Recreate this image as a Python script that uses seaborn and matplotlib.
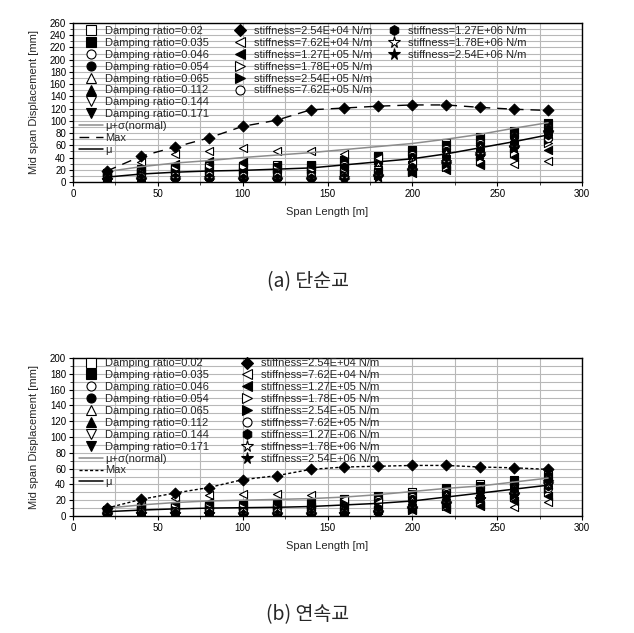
import numpy as np
import pandas as pd
import matplotlib
matplotlib.use("Agg")
import matplotlib.pyplot as plt
import seaborn as sns
from matplotlib.lines import Line2D
from matplotlib.ticker import MultipleLocator

sns.set_theme(style="white")
plt.rcParams["font.family"] = ["Liberation Sans", "DejaVu Sans"]

# ---------------- data ----------------
spans = [20, 40, 60, 80, 100, 120, 140, 160, 180, 200, 220, 240, 260, 280]

damping_labels = ["Damping ratio=0.02", "Damping ratio=0.035", "Damping ratio=0.046",
                  "Damping ratio=0.054", "Damping ratio=0.065", "Damping ratio=0.112",
                  "Damping ratio=0.144", "Damping ratio=0.171"]
stiffness_labels = ["stiffness=2.54E+04 N/m", "stiffness=7.62E+04 N/m", "stiffness=1.27E+05 N/m",
                    "stiffness=1.78E+05 N/m", "stiffness=2.54E+05 N/m", "stiffness=7.62E+05 N/m",
                    "stiffness=1.27E+06 N/m", "stiffness=1.78E+06 N/m", "stiffness=2.54E+06 N/m"]
line_labels = ["μ+σ(normal)", "Max", "μ"]

# (a) simple bridge
a_damp = [
    [15, 21, 24, 26, 26, 27, 27, 36, 43, 53, 63, 73, 84, 97],
    [14, 19, 22, 23, 24, 25, 26, 34, 41, 51, 61, 71, 82, 95],
    [11, 15, 17, 17, 17, 18, 19, 27, 34, 44, 54, 64, 76, 89],
    [10, 13, 15, 15, 15, 16, 17, 24, 31, 41, 51, 61, 73, 86],
    [8, 11, 12, 12, 12, 13, 14, 20, 27, 37, 47, 57, 69, 83],
    [6, 8, 9, 9, 9, 10, 11, 16, 22, 31, 41, 52, 64, 78],
    [5, 6, 7, 7, 7, 8, 9, 13, 19, 28, 38, 49, 61, 75],
    [4, 5, 6, 6, 6, 7, 8, 12, 17, 26, 36, 47, 59, 73],
]
a_stiff = [
    [18, 42, 57, 72, 91, 101, 118, 121, 124, 126, 126, 122, 119, 117],
    [14, 32, 46, 51, 55, 51, 51, 45, 39, 31, 26, 30, 29, 34],
    [11, 22, 30, 34, 33, 28, 27, 22, 18, 15, 20, 28, 41, 52],
    [9, 17, 22, 25, 24, 22, 20, 17, 14, 16, 25, 35, 48, 63],
    [8, 14, 17, 18, 17, 16, 15, 13, 12, 18, 30, 42, 55, 68],
    [6, 10, 12, 11, 10, 10, 9, 10, 12, 22, 35, 48, 60, 72],
    [5, 7, 8, 8, 7, 7, 7, 8, 13, 25, 38, 51, 63, 77],
    [4, 5, 6, 6, 5, 5, 5, 6, 10, 20, 33, 46, 58, 80],
    [3, 4, 4, 4, 3, 3, 3, 4, 8, 18, 30, 43, 56, 82],
]
a_mu_sigma = [17, 25, 31, 35, 40, 44, 48, 53, 58, 63, 70, 78, 88, 97]
a_max = [18, 42, 57, 72, 91, 101, 118, 121, 124, 126, 126, 122, 119, 117]
a_mu = [8, 13, 16, 18, 19, 21, 23, 28, 33, 38, 46, 56, 66, 77]

# (b) continuous bridge
b_damp = [
    [8, 11, 13, 14, 14, 15, 16, 22, 25, 30, 35, 40, 46, 52],
    [7, 10, 12, 13, 13, 14, 15, 21, 24, 28, 34, 38, 44, 50],
    [6, 8, 9, 10, 10, 11, 12, 17, 20, 24, 30, 35, 41, 47],
    [5, 7, 8, 9, 9, 10, 11, 15, 18, 22, 28, 33, 39, 45],
    [4, 6, 7, 7, 7, 8, 9, 13, 16, 20, 26, 31, 37, 43],
    [3, 4, 5, 5, 5, 6, 7, 10, 13, 17, 23, 28, 34, 40],
    [3, 3, 4, 4, 4, 5, 6, 8, 11, 15, 21, 26, 32, 38],
    [2, 3, 3, 3, 3, 4, 5, 7, 10, 14, 20, 25, 31, 37],
]
b_stiff = [
    [10, 21, 29, 36, 46, 51, 59, 62, 63, 64, 64, 62, 61, 59],
    [8, 16, 23, 27, 28, 28, 27, 22, 18, 9, 12, 14, 12, 18],
    [6, 11, 15, 18, 16, 14, 12, 10, 8, 7, 9, 13, 19, 25],
    [5, 9, 11, 12, 11, 10, 9, 8, 7, 8, 13, 18, 24, 31],
    [4, 7, 8, 9, 8, 7, 7, 6, 7, 10, 16, 21, 27, 34],
    [3, 5, 6, 6, 5, 5, 4, 4, 6, 11, 17, 23, 29, 36],
    [2, 3, 4, 4, 3, 3, 3, 3, 7, 12, 18, 24, 30, 38],
    [2, 2, 3, 3, 2, 2, 2, 2, 5, 10, 16, 22, 28, 41],
    [1, 2, 2, 2, 1, 1, 1, 2, 4, 9, 15, 21, 27, 43],
]
b_mu_sigma = [10, 14, 17, 19, 20, 21, 22, 24, 27, 31, 35, 38, 43, 48]
b_max = [10, 21, 29, 36, 46, 51, 59, 62, 63, 64, 64, 62, 61, 59]
b_mu = [5.5, 7.5, 9, 10, 10.5, 11, 12, 14, 16, 19, 24, 29, 34, 39]

captions = ["(a) 단순교", "(b) 연속교"]

# ---------------- styles ----------------
damp_styles = [("s", False), ("s", True), ("o", False), ("o", True),
               ("^", False), ("^", True), ("v", False), ("v", True)]
stiff_styles = [("D", True), ("<", False), ("<", True), (">", False), (">", True),
                ("o", False), ("h", True), ("*", False), ("*", True)]


def msize(m):
    return {"*": 60, "D": 30, "h": 38}.get(m, 34)


def lmsize(m):
    return {"*": 8.5, "D": 6.5, "h": 7}.get(m, 6.5)


def mk_handle(m, filled):
    return Line2D([], [], ls="none", marker=m, ms=lmsize(m),
                  mfc="black" if filled else "white", mec="black", mew=0.8)


def panel(ax, damp, stiff, mu_sigma, mx, mu, ymax, dash, split, col2x, col3x, top):
    for (m, f), vals in zip(damp_styles, damp):
        sns.scatterplot(x=spans, y=vals, marker=m, s=msize(m),
                        color="black" if f else "white", edgecolor="black",
                        linewidth=0.8, ax=ax, zorder=3, legend=False)
    for i, ((m, f), vals) in enumerate(zip(stiff_styles, stiff)):
        sns.scatterplot(x=spans, y=vals, marker=m, s=msize(m),
                        color="black" if f else "white", edgecolor="black",
                        linewidth=0.8, ax=ax, zorder=5 if i == 0 else 3, legend=False)
    sns.lineplot(x=spans, y=mu_sigma, color="#8c8c8c", lw=1.1, ax=ax, zorder=4, errorbar=None)
    sns.lineplot(x=spans, y=mx, color="black", lw=1.0, linestyle=dash, ax=ax, zorder=4, errorbar=None)
    sns.lineplot(x=spans, y=mu, color="black", lw=1.1, ax=ax, zorder=4, errorbar=None)

    ax.set_xlim(0, 300)
    ax.set_ylim(0, ymax)
    ax.xaxis.set_major_locator(MultipleLocator(50))
    ax.xaxis.set_minor_locator(MultipleLocator(25))
    ax.yaxis.set_major_locator(MultipleLocator(20))
    ax.yaxis.set_minor_locator(MultipleLocator(10))
    ax.grid(which="both", color="#b8b8b8", lw=0.8)
    ax.set_axisbelow(True)
    ax.tick_params(which="major", direction="out", length=3, width=0.8, labelsize=7,
                   pad=2, bottom=True, left=True, colors="black")
    ax.tick_params(which="minor", direction="out", length=2, width=0.6, bottom=True, left=True)
    for sp in ax.spines.values():
        sp.set_color("black")
        sp.set_linewidth(1.0)
    ax.set_xlabel("Span Length [m]", fontsize=8, labelpad=6)
    ax.set_ylabel("Mid span Displacement [mm]", fontsize=8, labelpad=8)

    common = dict(loc="upper left", frameon=False, fontsize=8, labelspacing=0.17,
                  handlelength=2.15, handletextpad=0.2, borderpad=0, borderaxespad=0)
    h1 = [mk_handle(m, f) for m, f in damp_styles] + [
        Line2D([], [], color="#8c8c8c", lw=1.1),
        Line2D([], [], color="black", lw=1.0, ls=dash),
        Line2D([], [], color="black", lw=1.1)]
    leg1 = ax.legend(h1, damping_labels + line_labels, bbox_to_anchor=(0.012, top), **common)
    ax.add_artist(leg1)
    hs = [mk_handle(m, f) for m, f in stiff_styles]
    leg2 = ax.legend(hs[:split], stiffness_labels[:split], bbox_to_anchor=(col2x, top), **common)
    if split < len(hs):
        ax.add_artist(leg2)
        ax.legend(hs[split:], stiffness_labels[split:], bbox_to_anchor=(col3x, top), **common)


fig = plt.figure(figsize=(6.34, 6.33), dpi=100)
fig.patch.set_facecolor("white")
ax1 = fig.add_axes([73 / 634, 1 - 182 / 633, 509 / 634, 159 / 633])
ax2 = fig.add_axes([73 / 634, 1 - 516 / 633, 509 / 634, 158 / 633])

panel(ax1, a_damp, a_stiff, a_mu_sigma, a_max, a_mu, 260, (0, (7, 5)), 6, 0.3045, 0.607, 0.981)
panel(ax2, b_damp, b_stiff, b_mu_sigma, b_max, b_mu, 200, (0, (2.2, 1.6)), 9, 0.318, 0.607, 0.997)

fig.text(308 / 634, 1 - 282 / 633, captions[0], ha="center", va="center", fontsize=14,
         family=["Noto Sans CJK KR", "DejaVu Sans"])
fig.text(308 / 634, 1 - 615 / 633, captions[1], ha="center", va="center", fontsize=14,
         family=["Noto Sans CJK KR", "DejaVu Sans"])

fig.savefig("out.png", dpi=100, facecolor="white")
